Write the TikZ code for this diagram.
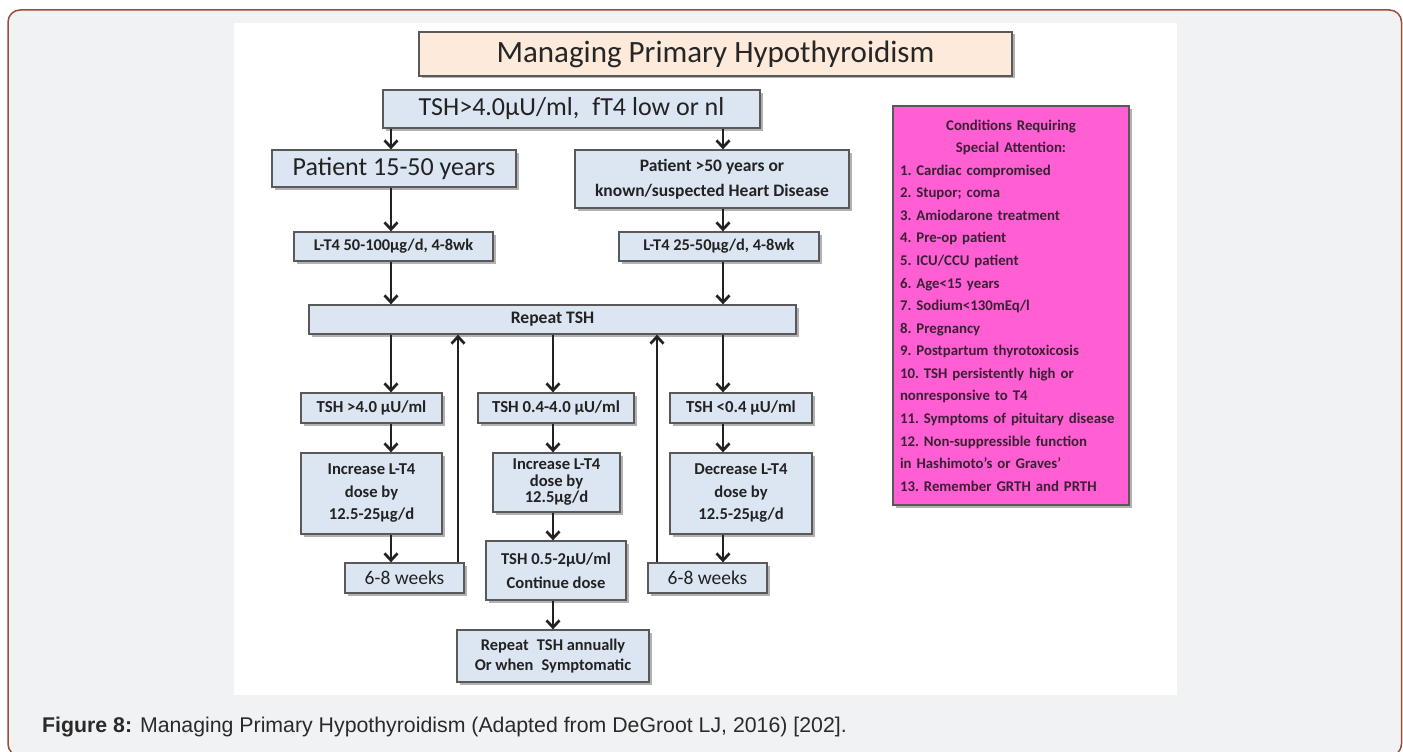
\documentclass[tikz,border=0pt]{standalone}
\usepackage{fontspec}
\setmainfont{Carlito}
\newfontfamily\capfont{Liberation Sans}
\usetikzlibrary{arrows.meta,shadows}

\definecolor{framec}{HTML}{9B4D3A}
\definecolor{pagebg}{HTML}{F1F2F4}
\definecolor{boxfill}{HTML}{DCE6F2}
\definecolor{boxline}{HTML}{595959}
\definecolor{titlefill}{HTML}{FDEADA}
\definecolor{pinkfill}{HTML}{FF5FD2}
\definecolor{inkc}{HTML}{222222}
\definecolor{pinktext}{HTML}{3A2036}
\definecolor{captext}{HTML}{2A2A2A}

\newcommand{\fsz}[2]{\fontsize{#1}{#2}\selectfont}
\newcommand{\ctrline}[1]{\leavevmode\hbox to 222pt{\hss #1\hss}}

\begin{document}
\begin{tikzpicture}[x=1pt,y=-1pt,
  bx/.style={draw=boxline, line width=1.3pt, fill=boxfill, inner sep=0pt, align=center, text=inkc,
    drop shadow={shadow xshift=2.5pt,shadow yshift=-2.5pt,fill=black,opacity=0.3}},
  titlebox/.style={bx, fill=titlefill},
  pinkbox/.style={bx, fill=pinkfill, text=pinktext},
  arr/.style={draw=inkc, line width=2.7pt, -{Straight Barb[length=7pt,width=13pt]}},
]
\useasboundingbox (0,0) rectangle (1403,752);
\fill[white] (0,0) rectangle (1403,752);
\draw[framec, line width=1.5pt, fill=pagebg, rounded corners=12pt] (8,10) rectangle (1401.5,756);
\fill[white] (234,23) rectangle (1177,695);

% column guides
\coordinate (cL) at (391,0);
\coordinate (cM) at (553,0);
\coordinate (cR) at (723,0);
\coordinate (uL) at (458,0);
\coordinate (uR) at (657,0);

% boxes
\node[titlebox, minimum width=593pt, minimum height=44pt, font=\fsz{31}{34}, text=black!85] (title) at (715.5,54) {Managing Primary Hypothyroidism};
\node[bx, minimum width=377pt, minimum height=38pt, font=\fsz{26}{30}] (tsh) at (571.5,109) {TSH>4.0µU/ml,\enspace fT4 low or nl};
\node[bx, minimum width=244pt, minimum height=37pt, font=\fsz{26}{30}] (p1) at (394,168.5) {Patient 15-50 years};
\node[bx, minimum width=274pt, minimum height=58pt, font=\bfseries\fsz{17.5}{25}] (p2) at (712,179) {Patient >50 years or\\known/suspected Heart Disease};
\node[bx, minimum width=199pt, minimum height=29pt, font=\bfseries\fsz{16.4}{20}] (lt1) at (393.5,246.5) {L-T4 50-100µg/d, 4-8wk};
\node[bx, minimum width=200pt, minimum height=29pt, font=\bfseries\fsz{16.4}{20}] (lt2) at (719,246.5) {L-T4 25-50µg/d, 4-8wk};
\node[bx, minimum width=487pt, minimum height=29pt, font=\bfseries\fsz{17.6}{20}] (rep) at (552.5,319.5) {Repeat TSH};
\node[bx, minimum width=141pt, minimum height=30pt, font=\bfseries\fsz{16.8}{20}] (t1) at (371.5,408) {TSH >4.0 µU/ml};
\node[bx, minimum width=156pt, minimum height=30pt, font=\bfseries\fsz{16.8}{20}] (t2) at (556,408) {TSH 0.4-4.0 µU/ml};
\node[bx, minimum width=142pt, minimum height=30pt, font=\bfseries\fsz{16.8}{20}] (t3) at (741,408) {TSH <0.4 µU/ml};
\node[bx, minimum width=141pt, minimum height=81pt, font=\bfseries\fsz{16.6}{22.5}] (inc1) at (371.5,493.5) {Increase L-T4\\dose by\\12.5-25µg/d};
\node[bx, minimum width=127pt, minimum height=59pt, font=\bfseries\fsz{16.6}{16.5}] (inc2) at (556.5,482.5) {Increase L-T4\\dose by\\12.5µg/d};
\node[bx, minimum width=142pt, minimum height=81pt, font=\bfseries\fsz{16.6}{22.5}] (dec) at (741,493.5) {Decrease L-T4\\dose by\\12.5-25µg/d};
\node[bx, minimum width=119pt, minimum height=30pt, font=\fsz{19.5}{22}] (w1) at (404.5,578) {6-8 weeks};
\node[bx, minimum width=140pt, minimum height=59pt, font=\bfseries\fsz{16.6}{24}] (cont) at (556,570.5) {TSH 0.5-2µU/ml\\Continue dose};
\node[bx, minimum width=119pt, minimum height=30pt, font=\fsz{19.5}{22}] (w2) at (707.5,578) {6-8 weeks};
\node[bx, minimum width=192pt, minimum height=52pt, font=\bfseries\fsz{16.4}{20}] (ann) at (553,656) {Repeat\enspace TSH annually\\Or when\enspace Symptomatic};

\node[pinkbox, minimum width=236pt, minimum height=399pt, text width=222pt, align=left,
  font=\bfseries\fsz{14.8}{22.56}] (cond) at (1011,305.5)
{\frenchspacing\ctrline{Conditions Requiring}\\
\ctrline{Special Attention:}\\
1. Cardiac compromised\\
2. Stupor; coma\\
3. Amiodarone treatment\\
4. Pre-op patient\\
5. ICU/CCU patient\\
6. Age<15 years\\
7. Sodium<130mEq/l\\
8. Pregnancy\\
9. Postpartum thyrotoxicosis\\
10. TSH persistently high or\\
nonresponsive to T4\\
11. Symptoms of pituitary disease\\
12. Non-suppressible function\\
in Hashimoto’s or Graves’\\
13. Remember GRTH and PRTH};

% caption
\node[anchor=base west, inner sep=0pt, text=captext, font=\capfont\fsz{21.3}{25}] (cap) at (42,732) {\textbf{Figure 8:} Managing Primary Hypothyroidism (Adapted from DeGroot LJ, 2016) [202].};

% connectors
\draw[arr] (tsh.south -| cL) -- (p1.north -| cL);
\draw[arr] (tsh.south -| cR) -- (p2.north -| cR);
\draw[arr] (p1.south -| cL) -- (lt1.north -| cL);
\draw[arr] (p2.south -| cR) -- (lt2.north -| cR);
\draw[arr] (lt1.south -| cL) -- (rep.north -| cL);
\draw[arr] (lt2.south -| cR) -- (rep.north -| cR);
\draw[arr] (rep.south -| cL) -- (t1.north -| cL);
\draw[arr] (rep.south -| cM) -- (t2.north -| cM);
\draw[arr] (rep.south -| cR) -- (t3.north -| cR);
\draw[arr] (t1.south -| cL) -- (inc1.north -| cL);
\draw[arr] (t2.south -| cM) -- (inc2.north -| cM);
\draw[arr] (t3.south -| cR) -- (dec.north -| cR);
\draw[arr] (inc1.south -| cL) -- (w1.north -| cL);
\draw[arr] (inc2.south -| cM) -- (cont.north -| cM);
\draw[arr] (dec.south -| cR) -- (w2.north -| cR);
\draw[arr] (cont.south -| cM) -- (ann.north -| cM);
\draw[arr] (w1.north -| uL) -- (rep.south -| uL);
\draw[arr] (w2.north -| uR) -- (rep.south -| uR);
\end{tikzpicture}
\end{document}
